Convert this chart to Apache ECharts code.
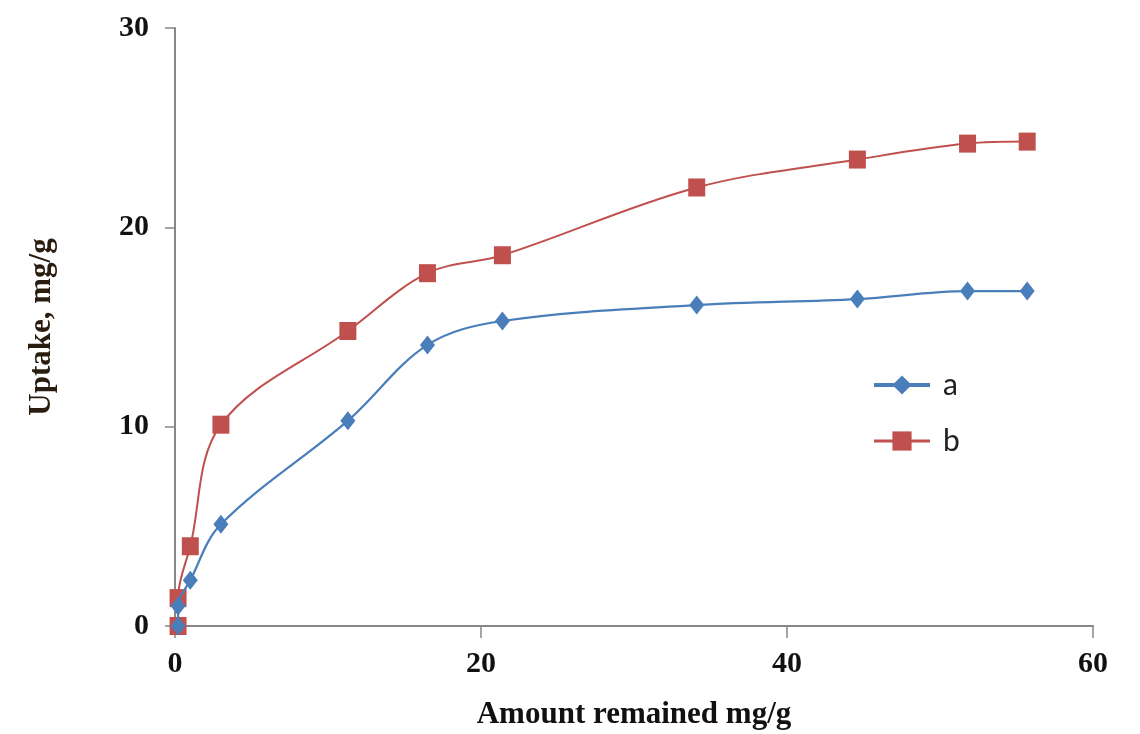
<!DOCTYPE html>
<html>
<head>
<meta charset="utf-8">
<script src="https://cdn.jsdelivr.net/npm/echarts@6/dist/echarts.min.js"></script>
<style>html,body{margin:0;padding:0;background:#fff}#c{width:1140px;height:734px}</style>
</head>
<body>
<div id="c"></div>
<script>
const seriesNames = ['a', 'b'];
const xA = [0.2, 0.2, 1.0, 3.0, 11.3, 16.5, 21.4, 34.1, 44.6, 51.8, 55.7];
const yA = [0.0, 1.0, 2.3, 5.1, 10.3, 14.1, 15.3, 16.1, 16.4, 16.8, 16.8];
const xB = [0.2, 0.2, 1.0, 3.0, 11.3, 16.5, 21.4, 34.1, 44.6, 51.8, 55.7];
const yB = [0.0, 1.4, 4.0, 10.1, 14.8, 17.7, 18.6, 22.0, 23.4, 24.2, 24.3];
const xTicks = [0, 20, 40, 60];
const yTicks = [0, 10, 20, 30];
const xTitle = 'Amount remained mg/g';
const yTitle = 'Uptake, mg/g';

const pairs = (xs, ys) => xs.map((x, i) => [x, ys[i]]);
const serif = '"Liberation Serif", "Times New Roman", serif';
const axisColor = '#878787';
const blue = '#4A7EBB';
const red = '#C0504D';

const chart = echarts.init(document.getElementById('c'));
chart.setOption({
  animation: false,
  backgroundColor: '#ffffff',
  grid: { left: 175, right: 47, top: 28, bottom: 108, containLabel: false, outerBoundsMode: 'none' },
  legend: {
    data: [
      { name: seriesNames[0], lineStyle: { width: 4, color: blue }, itemStyle: { color: blue } },
      { name: seriesNames[1], lineStyle: { width: 3, color: red }, itemStyle: { color: red } }
    ],
    orient: 'vertical',
    left: 867,
    top: 363,
    itemWidth: 56,
    itemHeight: 24,
    itemGap: 22,
    textStyle: {
      fontFamily: '"Liberation Sans Narrow", Lato, sans-serif',
      fontSize: 30, lineHeight: 34, color: '#222',
      padding: [0, 0, 0, 8]
    }
  },
  xAxis: {
    type: 'value',
    min: xTicks[0], max: xTicks[xTicks.length - 1], interval: 20,
    name: xTitle, nameLocation: 'middle', nameGap: 73,
    nameTextStyle: { fontFamily: serif, fontWeight: 'bold', fontSize: 31, color: '#111' },
    axisLine: { lineStyle: { color: axisColor, width: 2 } },
    axisTick: { show: true, length: 12, lineStyle: { color: axisColor, width: 1.5 } },
    axisLabel: { fontFamily: serif, fontWeight: 'bold', fontSize: 30, color: '#111', margin: 23 },
    splitLine: { show: false }
  },
  yAxis: {
    type: 'value',
    min: yTicks[0], max: yTicks[yTicks.length - 1], interval: 10,
    name: yTitle, nameLocation: 'middle', nameGap: 118, nameRotate: 90,
    nameTextStyle: { fontFamily: serif, fontWeight: 'bold', fontSize: 31, color: '#2a1d10' },
    axisLine: { show: true, lineStyle: { color: axisColor, width: 2 } },
    axisTick: { show: true, length: 10, lineStyle: { color: axisColor, width: 1.5 } },
    axisLabel: { fontFamily: serif, fontWeight: 'bold', fontSize: 30, color: '#111', margin: 26 },
    splitLine: { show: false }
  },
  series: [
    {
      name: 'b', type: 'line', data: pairs(xB, yB), smooth: 0.35,
      symbol: 'rect', symbolSize: [17, 18],
      itemStyle: { color: red },
      lineStyle: { color: red, width: 2 }, z: 2
    },
    {
      name: 'a', type: 'line', data: pairs(xA, yA), smooth: 0.35,
      symbol: 'diamond', symbolSize: [15, 19],
      itemStyle: { color: blue },
      lineStyle: { color: blue, width: 2.2 }, z: 3
    }
  ]
});
</script>
</body>
</html>
